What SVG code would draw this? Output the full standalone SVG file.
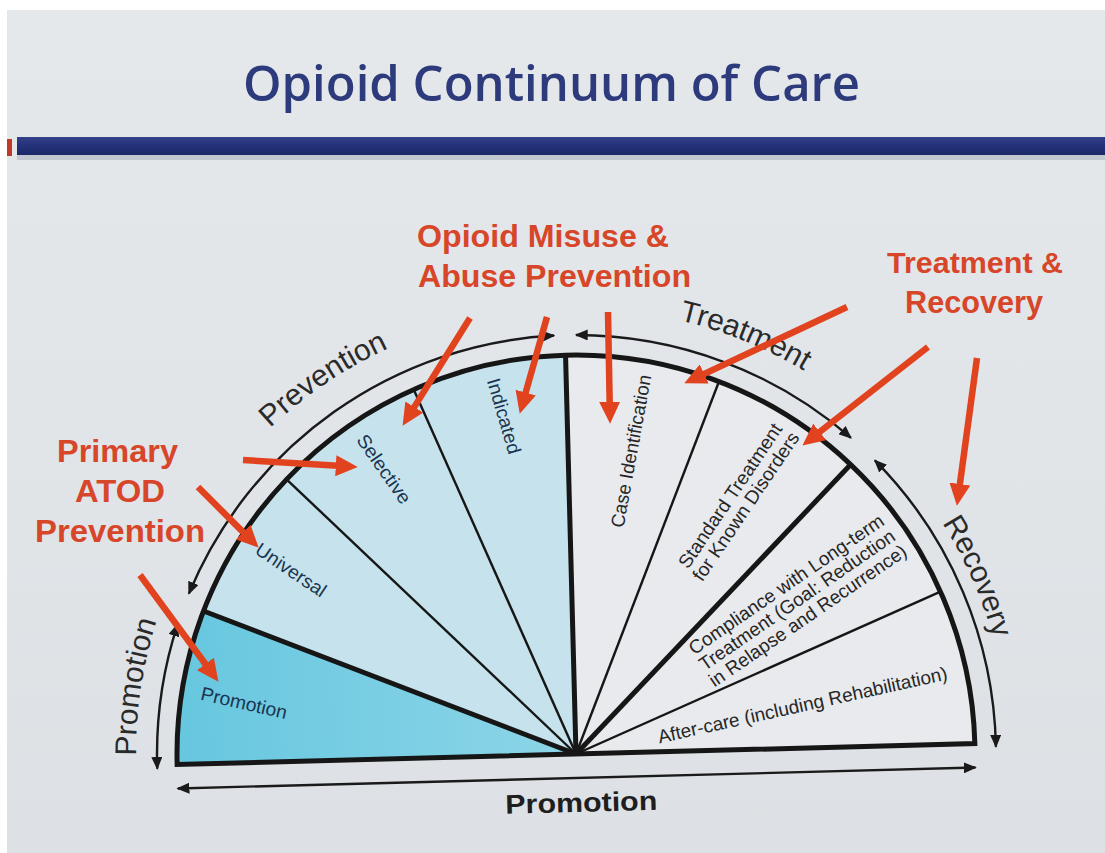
<svg xmlns="http://www.w3.org/2000/svg" width="1105" height="853" viewBox="0 0 1105 853">
<defs>
  <linearGradient id="bg" x1="0" y1="0" x2="0" y2="1">
    <stop offset="0" stop-color="#e5e8eb"/>
    <stop offset="1" stop-color="#dde1e5"/>
  </linearGradient>
  <linearGradient id="bar" x1="0" y1="0" x2="0" y2="1">
    <stop offset="0" stop-color="#34428a"/>
    <stop offset="0.5" stop-color="#23317a"/>
    <stop offset="1" stop-color="#1c2867"/>
  </linearGradient>
  <linearGradient id="promo" x1="0" y1="0" x2="1" y2="0">
    <stop offset="0" stop-color="#66c7df"/>
    <stop offset="1" stop-color="#8dd5e7"/>
  </linearGradient>
  <marker id="ah" viewBox="0 0 10 10" refX="9" refY="5" markerWidth="13" markerHeight="11" markerUnits="userSpaceOnUse" orient="auto-start-reverse" preserveAspectRatio="none">
    <path d="M0,0 L10,5 L0,10 z" fill="#1a1a1a"/>
  </marker>
  <marker id="rh" viewBox="0 0 10 10" refX="1" refY="5" markerWidth="22" markerHeight="21" markerUnits="userSpaceOnUse" orient="auto" preserveAspectRatio="none">
    <path d="M0,0 L10,5 L0,10 z" fill="#e2431f"/>
  </marker>
  <path id="cPrev" d="M129,754 A447,447 0 0,1 1023,754"/>
  <path id="cTreat" d="M130,754 A446,446 0 0,1 1022,754"/>
  <path id="cRec" d="M143,754 A433,433 0 0,1 1009,754"/>
  <path id="cPromo" d="M136,754 A440,440 0 0,1 1016,754"/>
  <style>
    .red { font-family: "Liberation Sans", Arial, sans-serif; font-weight: bold; fill: #d8462a; }
    .arcl { font-family: "Liberation Sans", Arial, sans-serif; font-size: 30px; fill: #2a2a2a; }
    .sl { font-family: "Liberation Sans", Arial, sans-serif; font-size: 19px; fill: #262626; text-anchor: middle; dominant-baseline: central; }
    .slb { fill: #1b3550; }
    .ra { stroke: #e2431f; stroke-width: 6.5; fill: none; marker-end: url(#rh); }
    .ba { stroke: #1a1a1a; stroke-width: 2.4; fill: none; marker-start: url(#ah); marker-end: url(#ah); }
    .thick { stroke: #161616; stroke-width: 5; fill: none; stroke-linejoin: miter; }
    .thin { stroke: #161616; stroke-width: 2.4; fill: none; }
    .lb { fill: #c6e3ed; }
    .wh { fill: #e8eaed; }
  </style>
</defs>

<!-- background -->
<rect x="0" y="0" width="1105" height="853" fill="#ffffff"/>
<rect x="7" y="10" width="1098" height="843" fill="url(#bg)"/>

<!-- header -->
<g id="title">
  <text x="243" y="101" font-family="'Open Sans', 'Liberation Sans', sans-serif" font-weight="600" font-size="49" fill="#2d3b7c" textLength="617" lengthAdjust="spacingAndGlyphs">Opioid Continuum of Care</text>
</g>
<g id="header-bar">
  <rect x="17" y="155" width="1088" height="5" fill="#c3c8d0"/>
  <rect x="17" y="137" width="1088" height="18" fill="url(#bar)"/>
  <rect x="7" y="139" width="5" height="17" fill="#c0392b"/>
</g>

<!-- sectors -->
<g id="sector-promotion">
  <path transform="rotate(-1.5 576 754)" d="M576,754 L177,754 A399,399 0 0,1 207.37,601.31 Z" fill="url(#promo)"/>
  <text class="sl slb" transform="translate(244,703) rotate(12.8)" font-size="18" textLength="88" lengthAdjust="spacingAndGlyphs">Promotion</text>
</g>
<g id="sector-universal">
  <path class="lb" transform="rotate(-1.5 576 754)" d="M576,754 L207.37,601.31 A399,399 0 0,1 293.86,471.86 Z"/>
  <text class="sl slb" transform="translate(291,570) rotate(34)" textLength="81" lengthAdjust="spacingAndGlyphs">Universal</text>
</g>
<g id="sector-selective">
  <path class="lb" transform="rotate(-1.5 576 754)" d="M576,754 L293.86,471.86 A399,399 0 0,1 423.31,385.37 Z"/>
  <text class="sl slb" transform="translate(384,469) rotate(55)" textLength="80" lengthAdjust="spacingAndGlyphs">Selective</text>
</g>
<g id="sector-indicated">
  <path class="lb" transform="rotate(-1.5 576 754)" d="M576,754 L423.31,385.37 A399,399 0 0,1 576,355 Z"/>
  <text class="sl slb" transform="translate(504,416) rotate(73.7)" textLength="78" lengthAdjust="spacingAndGlyphs">Indicated</text>
</g>
<g id="sector-case">
  <path class="wh" transform="rotate(-1.5 576 754)" d="M576,754 L576,355 A399,399 0 0,1 728.69,385.37 Z"/>
  <text class="sl" transform="translate(631,451) rotate(-79.6)" textLength="155" lengthAdjust="spacingAndGlyphs">Case Identification</text>
</g>
<g id="sector-standard">
  <path class="wh" transform="rotate(-1.5 576 754)" d="M576,754 L728.69,385.37 A399,399 0 0,1 858.14,471.86 Z"/>
  <g transform="translate(738,501) rotate(-56)">
    <text class="sl" x="0" y="-9.5" textLength="170" lengthAdjust="spacingAndGlyphs">Standard Treatment</text>
    <text class="sl" x="0" y="9.5" textLength="175" lengthAdjust="spacingAndGlyphs">for Known Disorders</text>
  </g>
</g>
<g id="sector-compliance">
  <path class="wh" transform="rotate(-1.5 576 754)" d="M576,754 L858.14,471.86 A399,399 0 0,1 944.63,601.31 Z"/>
  <g transform="translate(797,600) rotate(-34.5)">
    <text class="sl" x="0" y="-19" textLength="232" lengthAdjust="spacingAndGlyphs">Compliance with Long-term</text>
    <text class="sl" x="0" y="0" textLength="233" lengthAdjust="spacingAndGlyphs">Treatment (Goal: Reduction</text>
    <text class="sl" x="0" y="19" textLength="235" lengthAdjust="spacingAndGlyphs">in Relapse and Recurrence)</text>
  </g>
</g>
<g id="sector-aftercare">
  <path class="wh" transform="rotate(-1.5 576 754)" d="M576,754 L944.63,601.31 A399,399 0 0,1 975,754 Z"/>
  <text class="sl" transform="translate(802.5,705) rotate(-12.5)" textLength="296" lengthAdjust="spacingAndGlyphs">After-care (including Rehabilitation)</text>
</g>

<!-- outline of the half-wheel -->
<g id="wheel-outline" transform="rotate(-1.5 576 754)">
  <line class="thin" x1="576" y1="754" x2="293.86" y2="471.86"/>
  <line class="thin" x1="576" y1="754" x2="423.31" y2="385.37"/>
  <line class="thin" x1="576" y1="754" x2="728.69" y2="385.37"/>
  <line class="thin" x1="576" y1="754" x2="944.63" y2="601.31"/>
  <line class="thick" x1="576" y1="754" x2="207.37" y2="601.31" stroke="#2a2a2a" stroke-width="6"/>
  <line class="thick" x1="576" y1="754" x2="576" y2="355"/>
  <line class="thick" x1="576" y1="754" x2="858.14" y2="471.86"/>
  <path class="thick" d="M177,754 A399,399 0 0,1 975,754 Z"/>
</g>

<!-- arc labels -->
<g id="arc-labels" transform="rotate(-1.5 576 754)">
  <text class="arcl" text-anchor="middle"><textPath href="#cPrev" startOffset="448.6">Prevention</textPath></text>
  <text class="arcl" text-anchor="middle"><textPath href="#cTreat" startOffset="883.5">Treatment</textPath></text>
  <text class="arcl" text-anchor="middle"><textPath href="#cRec" startOffset="1191">Recovery</textPath></text>
  <text class="arcl" text-anchor="middle"><textPath href="#cPromo" startOffset="78.3">Promotion</textPath></text>
  <text x="580" y="812" text-anchor="middle" font-family="'Liberation Sans', Arial, sans-serif" font-weight="bold" font-size="27" fill="#1e1e1e" textLength="152" lengthAdjust="spacingAndGlyphs">Promotion</text>
</g>

<!-- red category labels -->
<g id="label-opioid-misuse">
  <text class="red" x="417" y="247" font-size="31.5" textLength="252" lengthAdjust="spacingAndGlyphs">Opioid Misuse &amp;</text>
  <text class="red" x="418" y="287" font-size="32" textLength="273" lengthAdjust="spacingAndGlyphs">Abuse Prevention</text>
</g>
<g id="label-treatment-recovery">
  <text class="red" x="887" y="273" font-size="30" textLength="176" lengthAdjust="spacingAndGlyphs">Treatment &amp;</text>
  <text class="red" x="905" y="313" font-size="30.5" textLength="138" lengthAdjust="spacingAndGlyphs">Recovery</text>
</g>
<g id="label-primary-atod">
  <text class="red" x="57" y="462" font-size="32" textLength="121" lengthAdjust="spacingAndGlyphs">Primary</text>
  <text class="red" x="75" y="502" font-size="32" textLength="90" lengthAdjust="spacingAndGlyphs">ATOD</text>
  <text class="red" x="35" y="542" font-size="32" textLength="170" lengthAdjust="spacingAndGlyphs">Prevention</text>
</g>

<!-- connectors -->
<g id="connectors">
  <g id="arc-arrows" transform="rotate(-1.5 576 754)">
    <path class="ba" d="M157.02,757.66 A419,419 0 0,1 181.03,614.13"/>
    <path class="ba" d="M193.22,583.58 A419,419 0 0,1 565.03,335.14"/>
    <path class="ba" d="M586.97,335.14 A419,419 0 0,1 859.07,445.08"/>
    <path class="ba" d="M882.44,468.24 A419,419 0 0,1 995.98,757.66"/>
    <line class="ba" x1="177" y1="778" x2="975" y2="778"/>
  </g>
  <g id="red-arrows">
    <line class="ra" x1="470" y1="318" x2="413.1" y2="408.9"/>
    <line class="ra" x1="547" y1="317" x2="525.1" y2="394.7"/>
    <line class="ra" x1="608" y1="312" x2="609.7" y2="404"/>
    <line class="ra" x1="847" y1="307" x2="702.2" y2="374.9"/>
    <line class="ra" x1="928" y1="347" x2="818" y2="433.3"/>
    <line class="ra" x1="977" y1="358" x2="959.6" y2="486.2"/>
    <line class="ra" x1="243" y1="460" x2="338" y2="465.8"/>
    <line class="ra" x1="198" y1="487" x2="244.6" y2="533.6"/>
    <line class="ra" x1="140" y1="575" x2="206.7" y2="665.7"/>
  </g>
</g>
</svg>
